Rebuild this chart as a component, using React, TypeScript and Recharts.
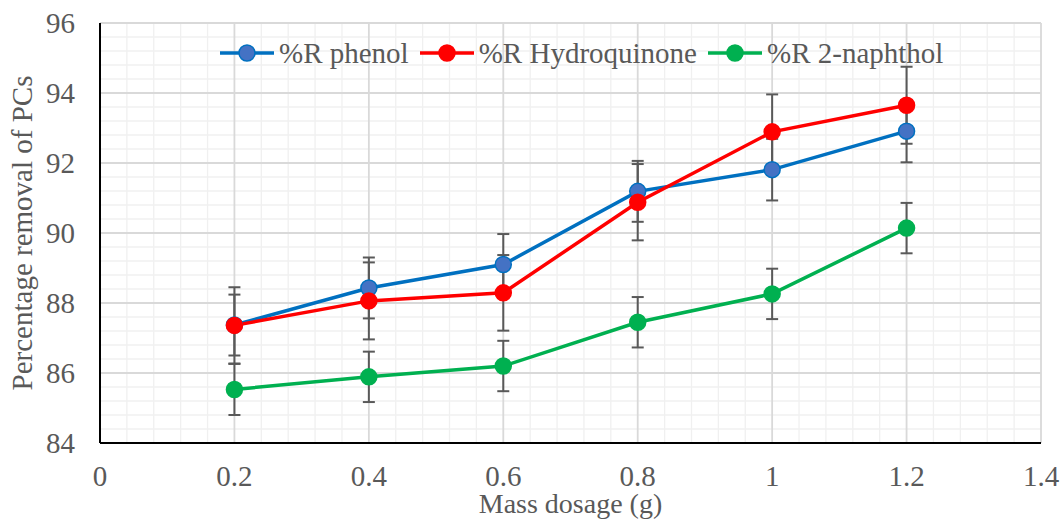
import React from 'react';
import { LineChart, Line, XAxis, YAxis, ErrorBar, ReferenceLine } from 'recharts';

// Mass dosage (g)
const dosages = [0.2, 0.4, 0.6, 0.8, 1.0, 1.2];

// % removal for each compound
const phenol = [87.37, 88.43, 89.1, 91.19, 91.81, 92.91];
const hydroquinone = [87.36, 88.06, 88.29, 90.88, 92.89, 93.65];
const naphthol = [85.53, 85.89, 86.2, 87.45, 88.26, 90.14];

// error bar (+/-) values
const phenolErr = [0.87, 0.87, 0.87, 0.87, 0.88, 0.89];
const hydroquinoneErr = [1.09, 1.1, 1.08, 1.09, 1.07, 1.1];
const naphtholErr = [0.73, 0.72, 0.72, 0.72, 0.72, 0.72];

const xTicks = [0, 0.2, 0.4, 0.6, 0.8, 1, 1.2, 1.4];
const yTicks = [84, 86, 88, 90, 92, 94, 96];

const seriesNames = ['%R phenol', '%R Hydroquinone', '%R 2-naphthol'];

const FONT = '"Liberation Serif", "Times New Roman", serif';
const TEXT = '#595959';

const data = dosages.map((x, i) => ({
  x,
  phenol: phenol[i],
  hydroquinone: hydroquinone[i],
  naphthol: naphthol[i],
  phenolErr: phenolErr[i],
  hydroquinoneErr: hydroquinoneErr[i],
  naphtholErr: naphtholErr[i],
}));

// minor gridlines (Excel style: 5 subdivisions between majors)
const xMinor: number[] = [];
for (let i = 0; i <= 35; i++) {
  if (i % 5 !== 0) xMinor.push(+(i * 0.04).toFixed(2));
}
const yMinor: number[] = [];
for (let i = 0; i <= 30; i++) {
  if (i % 5 !== 0) yMinor.push(+(84 + i * 0.4).toFixed(1));
}

const legendStyle = [
  { color: '#0070C0', fill: '#4472C4' },
  { color: '#FF0000', fill: '#FF0000' },
  { color: '#00B050', fill: '#00B050' },
];

function ChartLegend() {
  return (
    <div
      style={{
        position: 'absolute',
        left: 220,
        top: 42,
        height: 22,
        display: 'flex',
        alignItems: 'center',
        fontFamily: FONT,
        fontSize: 29,
        color: TEXT,
        whiteSpace: 'nowrap',
      }}
    >
      {seriesNames.map((name, i) => (
        <div key={name} style={{ display: 'flex', alignItems: 'center', marginRight: 11 }}>
          <svg width={54} height={22} style={{ marginRight: 5 }}>
            <line x1={0} y1={11} x2={54} y2={11} stroke={legendStyle[i].color} strokeWidth={3.5} />
            <circle cx={27} cy={11} r={8} fill={legendStyle[i].fill} stroke={legendStyle[i].color} strokeWidth={1.5} />
          </svg>
          <span>{name}</span>
        </div>
      ))}
    </div>
  );
}

export default function App() {
  return (
    <div style={{ position: 'absolute', left: 0, top: 0, width: 1063, height: 520, background: '#fff' }}>
      <LineChart
        width={1063}
        height={520}
        data={data}
        margin={{ top: 23, right: 22, bottom: 0, left: 0 }}
      >
        {xMinor.map(v => (
          <ReferenceLine key={'xm' + v} x={v} stroke="#f0f0f0" strokeWidth={1.3} />
        ))}
        {yMinor.map(v => (
          <ReferenceLine key={'ym' + v} y={v} stroke="#f0f0f0" strokeWidth={1.3} />
        ))}
        {xTicks.slice(1).map(v => (
          <ReferenceLine key={'xM' + v} x={v} stroke="#d9d9d9" strokeWidth={1.8} />
        ))}
        {yTicks.slice(1).map(v => (
          <ReferenceLine key={'yM' + v} y={v} stroke="#d9d9d9" strokeWidth={1.8} />
        ))}
        <XAxis
          dataKey="x"
          type="number"
          domain={[0, 1.4]}
          ticks={xTicks}
          interval={0}
          height={77}
          tickLine={false}
          tickSize={0}
          tickMargin={22}
          axisLine={{ stroke: '#000', strokeWidth: 2 }}
          tick={{ fill: TEXT, fontSize: 29, fontFamily: FONT }}
          label={{
            value: 'Mass dosage (g)',
            position: 'insideBottom',
            offset: 7,
            fill: TEXT,
            fontSize: 28,
            fontFamily: FONT,
          }}
        />
        <YAxis
          type="number"
          domain={[84, 96]}
          ticks={yTicks}
          interval={0}
          width={100}
          tickLine={false}
          tickSize={0}
          tickMargin={25}
          axisLine={{ stroke: '#000', strokeWidth: 2 }}
          tick={{ fill: TEXT, fontSize: 29, fontFamily: FONT }}
          label={{
            value: 'Percentage removal of PCs',
            angle: -90,
            position: 'center',
            dx: -28,
            fill: TEXT,
            fontSize: 29,
            fontFamily: FONT,
          }}
        />
        <Line
          dataKey="phenol"
          name={seriesNames[0]}
          stroke="#0070C0"
          strokeWidth={3.5}
          dot={{ r: 8, fill: '#4472C4', stroke: '#0070C0', strokeWidth: 1.5 }}
          activeDot={false}
          isAnimationActive={false}
        >
          <ErrorBar dataKey="phenolErr" direction="y" width={6} stroke="#595959" strokeWidth={2} isAnimationActive={false} />
        </Line>
        <Line
          dataKey="hydroquinone"
          name={seriesNames[1]}
          stroke="#FF0000"
          strokeWidth={3.5}
          dot={{ r: 8, fill: '#FF0000', stroke: '#FF0000', strokeWidth: 1.5 }}
          activeDot={false}
          isAnimationActive={false}
        >
          <ErrorBar dataKey="hydroquinoneErr" direction="y" width={6} stroke="#595959" strokeWidth={2} isAnimationActive={false} />
        </Line>
        <Line
          dataKey="naphthol"
          name={seriesNames[2]}
          stroke="#00B050"
          strokeWidth={3.5}
          dot={{ r: 8, fill: '#00B050', stroke: '#00B050', strokeWidth: 1.5 }}
          activeDot={false}
          isAnimationActive={false}
        >
          <ErrorBar dataKey="naphtholErr" direction="y" width={6} stroke="#595959" strokeWidth={2} isAnimationActive={false} />
        </Line>
      </LineChart>
      <ChartLegend />
    </div>
  );
}
